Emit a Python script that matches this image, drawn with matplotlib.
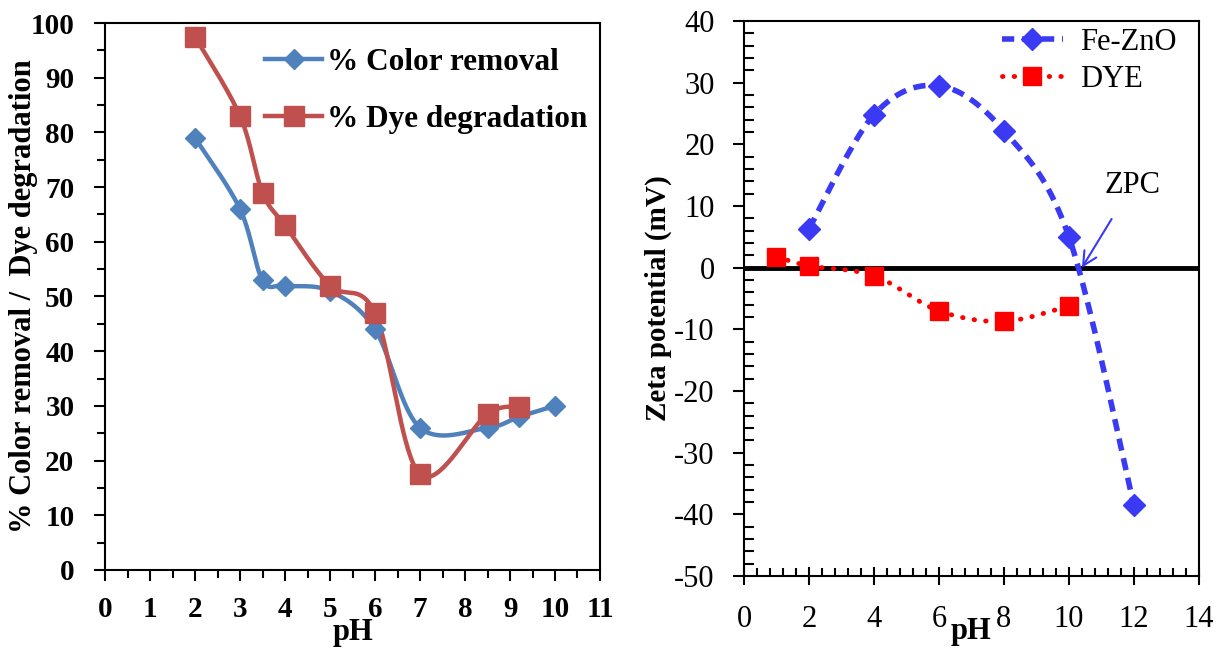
import numpy as np
import matplotlib.pyplot as plt
from matplotlib.ticker import MultipleLocator

plt.rcParams['font.family'] = ['Liberation Serif', 'DejaVu Serif']
plt.rcParams['axes.unicode_minus'] = False

# removal / degradation vs pH
ph_color = [2, 3, 3.5, 4, 5, 6, 7, 8.5, 9.2, 10]
color_removal = [79, 66, 53, 52, 51, 44, 26, 26, 28, 30]
ph_dye = [2, 3, 3.5, 4, 5, 6, 7, 8.5, 9.2]
dye_degradation = [97.5, 83, 69, 63, 52, 47, 17.5, 28.5, 29.8]

# zeta potential vs pH
ph_fezno = [2, 4, 6, 8, 10, 12]
zeta_fezno = [6.3, 24.8, 29.5, 22.2, 5, -38.5]
ph_zdye = [1, 2, 4, 6, 8, 10]
zeta_dye = [1.8, 0.3, -1.3, -7, -8.7, -6.2]


def smooth(x, y, n=40):
    # Catmull-Rom style bezier smoothing through the points
    p = np.column_stack([x, y]).astype(float)
    p = np.vstack([p[0], p, p[-1]])
    out = []
    t = np.linspace(0, 1, n)[:, None]
    for i in range(1, len(p) - 2):
        p0, p3 = p[i], p[i + 1]
        p1 = p0 + (p[i + 1] - p[i - 1]) / 6
        p2 = p3 - (p[i + 2] - p[i]) / 6
        seg = ((1 - t) ** 3) * p0 + 3 * ((1 - t) ** 2) * t * p1 + 3 * (1 - t) * t ** 2 * p2 + t ** 3 * p3
        out.append(seg)
    s = np.vstack(out)
    return s[:, 0], s[:, 1]


fig = plt.figure(figsize=(12.21, 6.5), dpi=100)
ax1 = fig.add_axes([0.086, 0.1231, 0.4054, 0.8415])
ax2 = fig.add_axes([0.6093, 0.1138, 0.3726, 0.8538])

blue = '#4F81BD'
red = '#C0504D'

# left panel
sx, sy = smooth(ph_color, color_removal)
ax1.plot(sx, sy, color=blue, lw=3.2, zorder=2)
ax1.plot(ph_color, color_removal, ls='none', marker='D', ms=10, color=blue, zorder=3)
sx, sy = smooth(ph_dye, dye_degradation)
ax1.plot(sx, sy, color=red, lw=3.2, zorder=2)
ax1.plot(ph_dye, dye_degradation, ls='none', marker='s', ms=14, color=red, zorder=3)
h1 = ax1.plot([], [], color=blue, lw=3.2, marker='D', ms=10, label='% Color removal')[0]
h2 = ax1.plot([], [], color=red, lw=3.2, marker='s', ms=14, label='% Dye degradation')[0]
ax1.legend(handles=[h1, h2], loc='upper left', bbox_to_anchor=(0.323, 0.954), frameon=False,
           prop={'weight': 'bold', 'size': 22.5}, handlelength=1.84, handletextpad=0.16,
           labelspacing=0.9, borderaxespad=0.0, borderpad=0.0)

ax1.set_xlim(0, 11)
ax1.set_ylim(0, 100)
ax1.xaxis.set_major_locator(MultipleLocator(1))
ax1.xaxis.set_minor_locator(MultipleLocator(0.5))
ax1.yaxis.set_major_locator(MultipleLocator(10))
ax1.yaxis.set_minor_locator(MultipleLocator(5))
ax1.tick_params(which='major', direction='out', length=8, width=1.5, labelsize=21, pad=11)
ax1.tick_params(which='minor', direction='out', length=6, width=1.5)
ax1.tick_params(axis='y', pad=14)
for lab in ax1.get_xticklabels() + ax1.get_yticklabels():
    lab.set_fontweight('bold')
ax1.set_xlabel('pH', fontsize=22, fontweight='bold', labelpad=-4)
ax1.set_ylabel('% Color removal /  Dye degradation', fontsize=22, fontweight='bold')
ax1.yaxis.set_label_coords(-0.135, 0.5)
for sp in ax1.spines.values():
    sp.set_linewidth(1.5)

# right panel
zblue = '#3A3AF5'
zred = '#FF0000'
ax2.axhline(0, color='black', lw=3.5, zorder=1)
sx, sy = smooth(ph_fezno, zeta_fezno)
ax2.plot(sx, sy, color=zblue, lw=4, ls=(0, (2.2, 1.4)), zorder=2)
ax2.plot(ph_fezno, zeta_fezno, ls='none', marker='D', ms=11, color=zblue, zorder=3)
sx, sy = smooth(ph_zdye, zeta_dye)
ax2.plot(sx, sy, color=zred, lw=3.5, ls=(0, (0.1, 2.3)), dash_capstyle='round', zorder=2)
ax2.plot(ph_zdye, zeta_dye, ls='none', marker='s', ms=13, color=zred, zorder=3)
g1 = ax2.plot([], [], color=zblue, lw=4, ls=(0, (2.2, 1.4)), marker='D', ms=11, label='Fe-ZnO')[0]
g2 = ax2.plot([], [], color=zred, lw=3.5, ls=(0, (0.1, 2.3)), dash_capstyle='round',
              marker='s', ms=13, label='DYE')[0]
ax2.legend(handles=[g1, g2], loc='upper left', bbox_to_anchor=(0.567, 0.988), frameon=False,
           prop={'size': 22}, handlelength=2.0, handletextpad=0.55, labelspacing=0.27,
           borderaxespad=0.0, borderpad=0.0)

ax2.annotate('ZPC', xy=(10.4, 0), xytext=(11.95, 13.4), fontsize=22, ha='center', va='center',
             arrowprops=dict(arrowstyle='->', color=zblue, lw=1.5, mutation_scale=25,
                             shrinkA=14, shrinkB=0))

ax2.set_xlim(0, 14)
ax2.set_ylim(-50, 40)
ax2.xaxis.set_major_locator(MultipleLocator(2))
ax2.xaxis.set_minor_locator(MultipleLocator(0.4))
ax2.yaxis.set_major_locator(MultipleLocator(10))
ax2.yaxis.set_minor_locator(MultipleLocator(2))
ax2.tick_params(axis='x', which='major', direction='inout', length=13, width=1.5, labelsize=22, pad=14)
ax2.tick_params(axis='x', which='minor', direction='in', length=6, width=1.5)
ax2.tick_params(axis='y', which='major', direction='out', length=8, width=1.5, labelsize=22, pad=13)
ax2.tick_params(axis='y', which='minor', direction='in', length=7, width=1.5)
ax2.set_xlabel('pH', fontsize=22, fontweight='bold', labelpad=-12)
ax2.set_ylabel('Zeta potential (mV)', fontsize=21, fontweight='bold')
ax2.yaxis.set_label_coords(-0.158, 0.5)
for sp in ax2.spines.values():
    sp.set_linewidth(1.5)

fig.savefig('out.png', dpi=100)
